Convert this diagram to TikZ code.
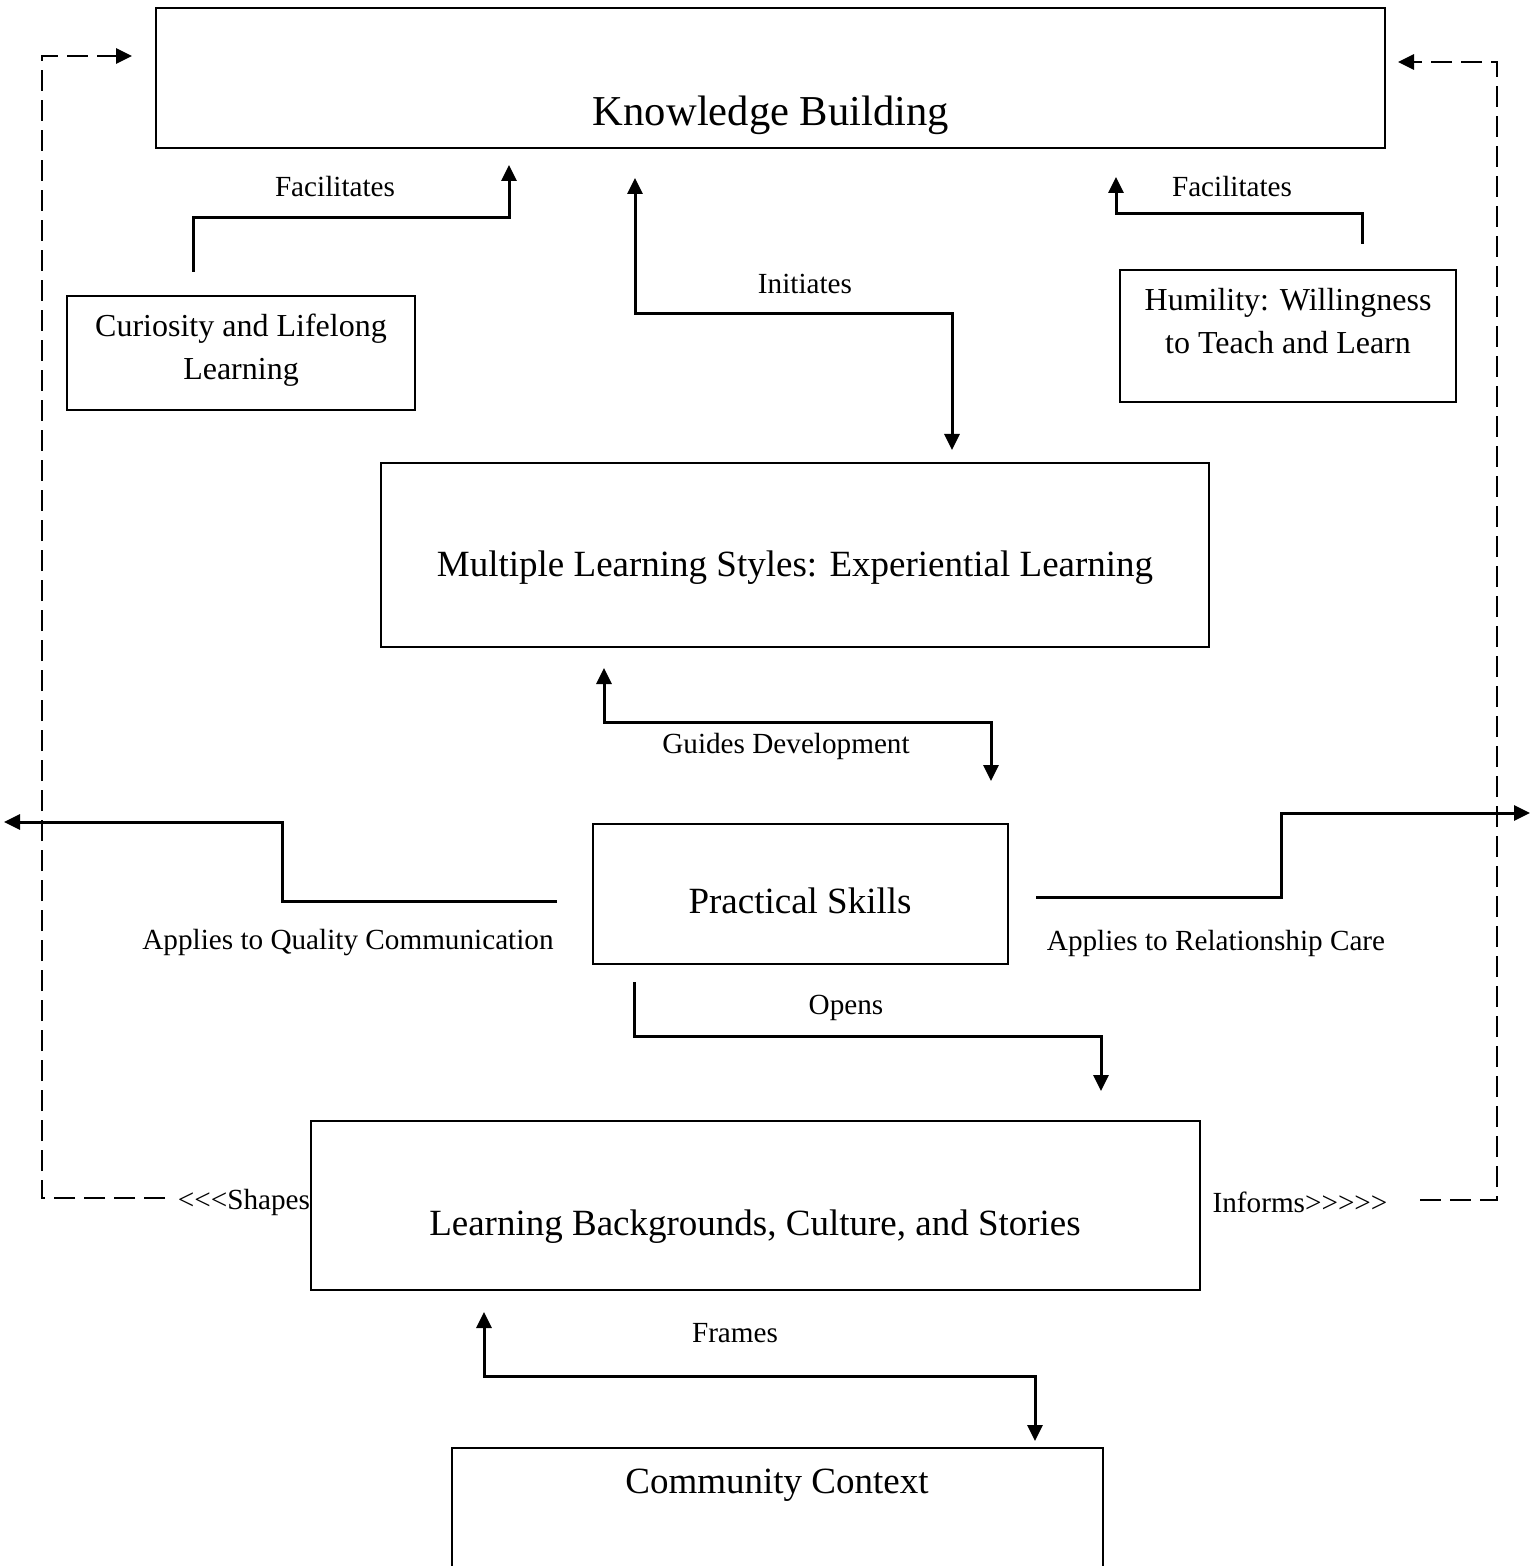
\documentclass[tikz,border=0pt]{standalone}
\usepackage{fontspec}
\setmainfont{Liberation Serif}
\usetikzlibrary{arrows.meta}
\newcommand{\lt}{<\kern0pt}
\newcommand{\gt}{>\kern0pt}
\tikzset{
  box/.style={draw, line width=0.7pt, inner sep=0pt},
  big/.style={font=\fontsize{18.5}{22}\selectfont, inner sep=0pt},
  huge/.style={font=\fontsize{21.3}{25}\selectfont, inner sep=0pt},
  mid/.style={font=\fontsize{16}{21.5}\selectfont, align=center, inner sep=0pt},
  lab/.style={font=\fontsize{14.6}{16}\selectfont, inner sep=0pt},
  conn/.style={line width=1.5pt, line join=miter},
  tip/.style={-{Triangle[length=8pt,width=7.5pt]}},
  tips/.style={{Triangle[length=8pt,width=7.5pt]}-{Triangle[length=8pt,width=7.5pt]}},
  dsh/.style={line width=1.4pt, dash pattern=on 10.5pt off 4.5pt}
}
\begin{document}
\begin{tikzpicture}[x=0.5pt,y=-0.5pt]
\useasboundingbox (0,0) rectangle (1536,1566);
% boxes
\node[box, minimum width=614.5pt, minimum height=70pt] (kb) at (770.5,78) {};
\node[huge] (kbt) at (771,115) {Knowledge Building};
\node[box, minimum width=174pt, minimum height=57pt] (cur) at (241,353) {};
\node[mid] (curt) at (241,350) {Curiosity and Lifelong\\Learning};
\node[box, minimum width=168pt, minimum height=66pt] (hum) at (1288,336) {};
\node[mid] (humt) at (1288,321.5) {Humility: Willingness\\to Teach and Learn};
\node[box, minimum width=414pt, minimum height=92pt] (mls) at (795,555) {};
\node[big] (mlst) at (795,568) {Multiple Learning Styles: Experiential Learning};
\node[box, minimum width=207.5pt, minimum height=70pt] (ps) at (800.5,894) {};
\node[big] (pst) at (800,901) {Practical Skills};
\node[box, minimum width=444.5pt, minimum height=84.5pt] (lb) at (755.5,1205.5) {};
\node[big] (lbt) at (755,1227) {Learning Backgrounds, Culture, and Stories};
\node[box, minimum width=325.5pt, minimum height=80pt] (cc) at (777.5,1528) {};
\node[big] (cct) at (777,1485) {Community Context};
% labels
\node[lab] (l1) at (335,187) {Facilitates};
\node[lab] (l2) at (1232,187) {Facilitates};
\node[lab] (l3) at (805,284) {Initiates};
\node[lab] (l4) at (786,746) {Guides Development};
\node[lab] (l5) at (348,943) {Applies to Quality Communication};
\node[lab] (l6) at (1216,943) {Applies to Relationship Care};
\node[lab] (l7) at (846,1008) {Opens};
\node[lab] (l8) at (244,1202) {\lt\lt\lt Shapes};
\node[lab] (l9) at (1300,1202) {Informs\gt\gt\gt\gt\gt};
\node[lab] (l10) at (735,1333) {Frames};
% connector end points
\coordinate (f1s) at (193,272); \coordinate (f1e) at (509,165);
\coordinate (f2s) at (1362,244); \coordinate (f2e) at (1116,177);
\coordinate (i1) at (635,178); \coordinate (i2) at (952,450);
\coordinate (g1) at (604,668); \coordinate (g2) at (991,781);
\coordinate (a1s) at (557,901); \coordinate (a1e) at (4,822);
\coordinate (a2s) at (1036,897); \coordinate (a2e) at (1530,813);
\coordinate (o1) at (634,982); \coordinate (o2) at (1101,1091);
\coordinate (fr1) at (484,1312); \coordinate (fr2) at (1035,1441);
\coordinate (d1s) at (165,1198); \coordinate (d1e) at (132,56);
\coordinate (d2s) at (1420,1200); \coordinate (d2e) at (1398,62);
% connectors
\draw[conn,tip] (f1s) -- (193,218) -- (509,218) -- (f1e);
\draw[conn,tip] (f2s) -- (1362,214) -- (1116,214) -- (f2e);
\draw[conn,tips] (i1) -- (635,314) -- (952,314) -- (i2);
\draw[conn,tips] (g1) -- (604,722) -- (991,722) -- (g2);
\draw[conn,tip] (a1s) -- (282,901) -- (282,822) -- (a1e);
\draw[conn,tip] (a2s) -- (1281,897) -- (1281,813) -- (a2e);
\draw[conn,tip] (o1) -- (634,1036) -- (1101,1036) -- (o2);
\draw[conn,tips] (fr1) -- (484,1376) -- (1035,1376) -- (fr2);
\draw[dsh,tip] (d1s) -- (42,1198) -- (42,56) -- (d1e);
\draw[dsh,tip] (d2s) -- (1497,1200) -- (1497,62) -- (d2e);
\end{tikzpicture}
\end{document}
